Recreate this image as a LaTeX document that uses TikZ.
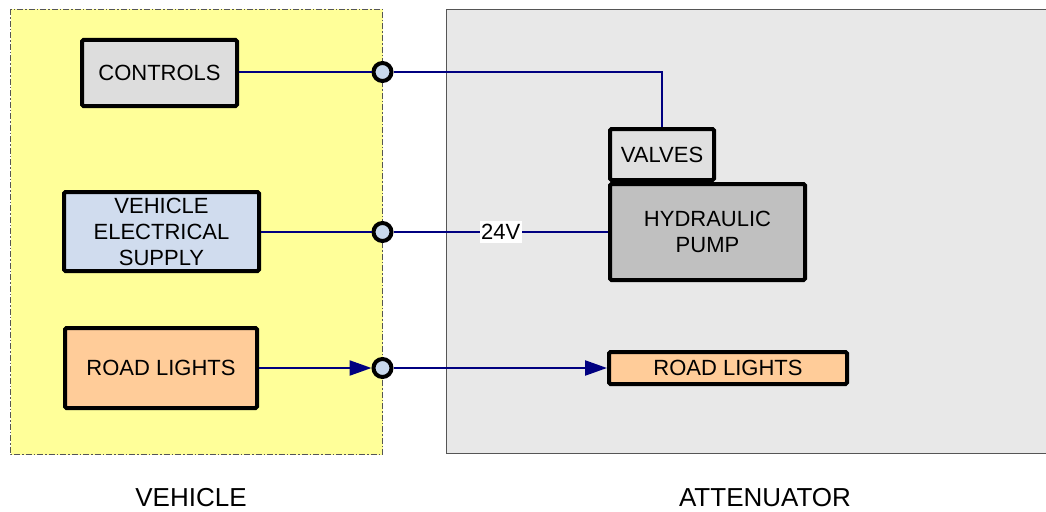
\documentclass[tikz,border=0pt]{standalone}
\usepackage{fontspec}
\setmainfont{Liberation Sans}
\usetikzlibrary{arrows.meta}
\definecolor{vehfill}{HTML}{FFFF99}
\definecolor{attfill}{HTML}{E8E8E8}
\definecolor{ctrlfill}{HTML}{DDDDDD}
\definecolor{supfill}{HTML}{D0DCEE}
\definecolor{lightfill}{HTML}{FFCC99}
\definecolor{valvefill}{HTML}{E0E0E0}
\definecolor{pumpfill}{HTML}{C0C0C0}
\definecolor{portfill}{HTML}{C8D8EC}
\definecolor{wire}{HTML}{000080}
\definecolor{framegray}{HTML}{555555}
\tikzset{
  unit/.style={draw=black, line width=4pt, rounded corners=1.5pt, inner sep=0pt,
    align=center, font=\fontsize{22}{26}\selectfont},
  port/.style={circle, draw=black, line width=4pt, fill=portfill, minimum size=18pt, inner sep=0pt},
  conn/.style={draw=wire, line width=2.3pt},
  arr/.style={-{Triangle[length=22pt,width=15pt]}},
  caption/.style={font=\fontsize{26}{30}\selectfont},
}
\begin{document}
\begin{tikzpicture}[x=1pt,y=-1pt]
\useasboundingbox (0,0) rectangle (1046,511);
% frames
\path[fill=vehfill, draw=framegray, line width=1pt, dash pattern=on 6pt off 2pt on 1.5pt off 2pt]
  (10.5,9.5) rectangle (382.5,454.5);
\path[fill=attfill, draw=framegray, line width=1.5pt] (446.5,9.5) rectangle (1060,453.5);
% vehicle units
\node[unit, fill=ctrlfill, minimum width=155pt, minimum height=66pt] (ctrl) at (159.5,73) {CONTROLS};
\node[unit, fill=supfill, minimum width=195pt, minimum height=79pt] (sup) at (161.5,231.5) {VEHICLE\\ELECTRICAL\\SUPPLY};
\node[unit, fill=lightfill, minimum width=192pt, minimum height=80pt] (vlights) at (161,368) {ROAD LIGHTS};
% ports
\node[port] (p1) at (382.5,72) {};
\node[port] (p2) at (382.5,232) {};
\node[port] (p3) at (382.5,368) {};
% attenuator units
\node[unit, fill=valvefill, minimum width=104pt, minimum height=51pt] (valves) at (662,154.5) {VALVES};
\node[unit, fill=pumpfill, minimum width=195pt, minimum height=96pt, text depth=0pt] (pump) at (707.5,232) {HYDRAULIC\\PUMP};
\node[unit, fill=lightfill, minimum width=238pt, minimum height=32pt] (alights) at (728,368) {ROAD LIGHTS};
% connectors
\draw[conn] (ctrl.east |- p1) -- (p1.west);
\draw[conn] (p1.east) -- (662,72) coordinate (bend) -- (valves.north);
\draw[conn] (sup.east |- p2) -- (p2.west);
\draw[conn] (p2.east) -- node[fill=white, inner xsep=1.5pt, inner ysep=3pt, font=\fontsize{22}{26}\selectfont, text=black] (v24) {24V} (pump.west |- p2);
\draw[conn, arr] (vlights.east |- p3) -- (p3.west);
\draw[conn, arr] (p3.east) -- (alights.west);
% captions
\node[caption] (vcap) at (191,498) {VEHICLE};
\node[caption] (acap) at (765,498) {ATTENUATOR};
\end{tikzpicture}
\end{document}
